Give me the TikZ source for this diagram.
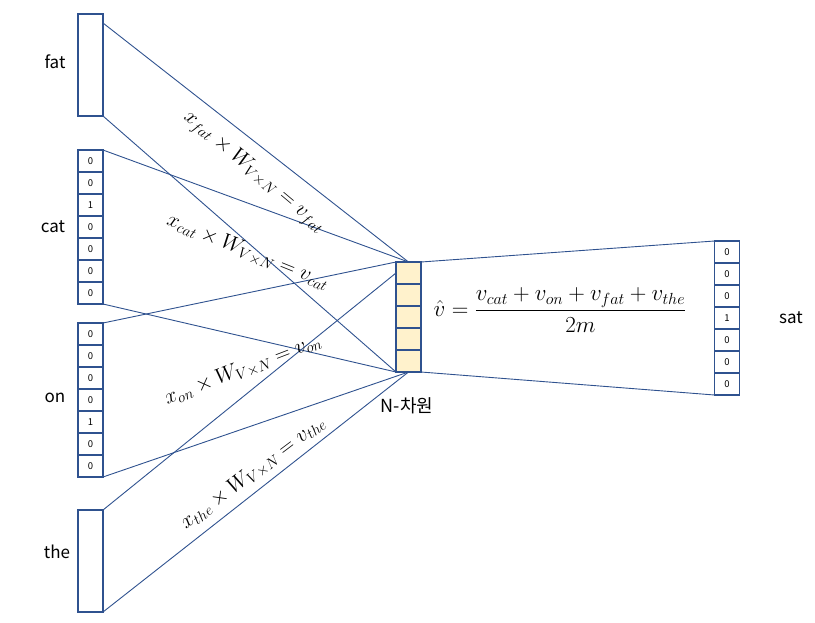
\RequirePackage{fix-cm}
\documentclass[tikz,border=0pt]{standalone}
\usepackage{amssymb, amsmath}
\usepackage{fontspec}
\newfontfamily\krfont{Noto Sans CJK KR}
\usetikzlibrary{positioning}
\definecolor{lineblue}{RGB}{47,82,143}
\definecolor{cellfill}{RGB}{255,242,204}

\begin{document}
\begin{tikzpicture}[x=1pt, y=-1pt,
    vec/.style={draw=lineblue, line width=1.1pt, minimum width=25pt, inner sep=0pt, outer sep=0pt},
    cell/.style={vec, minimum height=22pt, font=\krfont\fontsize{9.5}{10}\selectfont},
    connect/.style={lineblue, line width=0.9pt},
    word_style/.style={font=\krfont\fontsize{17}{20}\selectfont},
    eq_style/.style={font=\fontsize{21.5}{25}\selectfont}
]
    \useasboundingbox (0,0) rectangle (815,622);

    % --- DRAW INPUT VECTORS ---
    \node[vec, minimum height=102pt, anchor=north west] (fat) at (78,14) {};
    \foreach \d [count=\k] in {0,0,1,0,0,0,0} {
        \node[cell] (cat-\k) at (90.5, 150+22*\k-11) {\d};
    }
    \foreach \d [count=\k] in {0,0,0,0,1,0,0} {
        \node[cell] (on-\k) at (90.5, 323+22*\k-11) {\d};
    }
    \node[vec, minimum height=102pt, anchor=north west] (the) at (78,510) {};

    \node[word_style] (w-fat) at (55,62) {fat};
    \node[word_style] (w-cat) at (53,227) {cat};
    \node[word_style] (w-on) at (55,398) {on};
    \node[word_style] (w-the) at (57,552) {the};

    % --- DRAW HIDDEN LAYER ---
    \foreach \k in {1,...,5} {
        \node[cell, fill=cellfill] (hid-\k) at (408.5, 262+22*\k-11) {};
    }
    \node[word_style, font=\krfont\fontsize{18}{20}\selectfont] (dim) at (407,406) {N-차원};

    % --- DRAW OUTPUT VECTOR ---
    \foreach \d [count=\k] in {0,0,0,1,0,0,0} {
        \node[cell] (out-\k) at (727, 241+22*\k-11) {\d};
    }
    \node[word_style] (w-sat) at (791,318) {sat};

    % --- CONNECTIONS ---
    \draw[connect] ([yshift=-9pt]fat.north east) -- (hid-1.north);
    \draw[connect] (fat.south east) -- (hid-5.south west);
    \draw[connect] (cat-1.north east) -- (hid-1.north);
    \draw[connect] (cat-7.south east) -- (hid-5.south west);
    \draw[connect] (on-1.north east) -- (hid-1.north west);
    \draw[connect] (on-7.south east) -- (hid-5.south);
    \draw[connect] (the.north east) -- (hid-1.west);
    \draw[connect] (the.south east) -- (hid-5.south);
    \draw[connect] (hid-1.north east) -- (out-1.north west);
    \draw[connect] (hid-5.south east) -- (out-7.south west);

    % --- PROJECTION LABELS ---
    \node[eq_style, rotate=-40] (eq-fat) at (254,172) {$x_{fat}\times W_{V\times N}=v_{fat}$};
    \node[eq_style, rotate=-22] (eq-cat) at (248,252) {$x_{cat}\times W_{V\times N}=v_{cat}$};
    \node[eq_style, rotate=21] (eq-on) at (243,370) {$x_{on}\times W_{V\times N}=v_{on}$};
    \node[eq_style, rotate=37] (eq-the) at (253,473) {$x_{the}\times W_{V\times N}=v_{the}$};

    % Average of context vectors
    \node[eq_style, font=\fontsize{23}{27}\selectfont] (avg) at (560,310) {$\hat{v}=\dfrac{v_{cat}+v_{on}+v_{fat}+v_{the}}{2m}$};

\end{tikzpicture}
\end{document}
